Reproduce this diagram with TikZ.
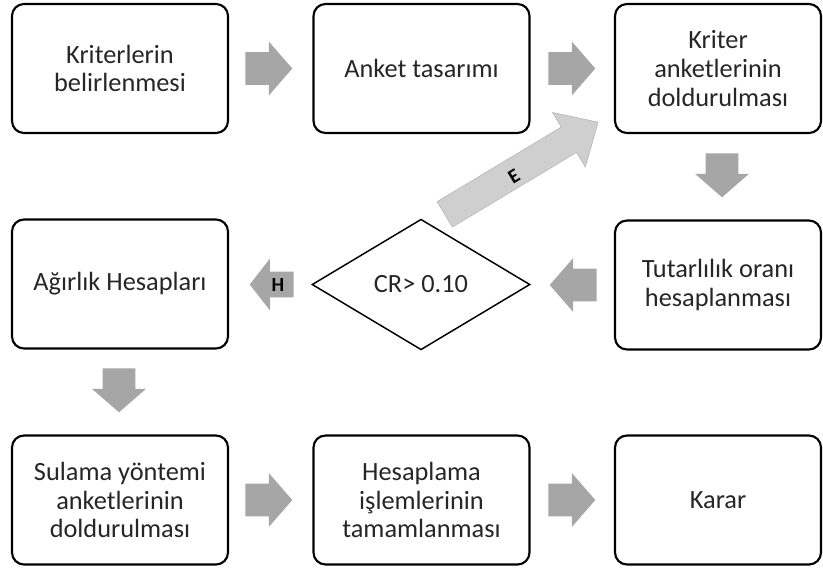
\documentclass[tikz,border=0pt]{standalone}
\usepackage{fontspec}
\setmainfont{Carlito}
\usetikzlibrary{shapes.geometric,shapes.arrows}

\begin{document}
\begin{tikzpicture}[x=0.75pt, y=-0.75pt, font=\fontsize{19.75}{21.5}\selectfont,
  box/.style={draw, line width=1.6pt, rounded corners=9pt, fill=white,
    minimum width=162pt, minimum height=96.75pt, align=center, text=black!85},
  blockarr/.style={single arrow, fill=gray!70, draw=none, anchor=tail,
    inner xsep=0pt, inner ysep=12pt, minimum width=1pt,
    single arrow head extend=8pt, single arrow tip angle=98},
  lbl/.style={font=\fontsize{15}{16}\selectfont\bfseries, text=black, inner sep=0pt}]
  \useasboundingbox (0,0) rectangle (823,572);
  % top row
  \node[box] (krit) at (120,68.5) {Kriterlerin\\belirlenmesi};
  \node[box] (anket) at (421.5,68.5) {Anket tasarımı};
  \node[box, minimum width=154.5pt] (dold) at (718,68.5) {Kriter\\anketlerinin\\doldurulması};
  \node[blockarr, minimum height=35.25pt] (a1) at (245,68.5) {};
  \node[blockarr, minimum height=35.25pt] (a2) at (548,68.5) {};
  \node[blockarr, minimum height=33pt, rotate=-90] (a3) at (722,153) {};
  % middle row, with the check
  \node[box] (agir) at (120,284) {Ağırlık Hesapları};
  \node[box, minimum width=154.5pt] (tut) at (718,285) {Tutarlılık oranı\\hesaplanması};
  \node[diamond, draw, line width=1.1pt, inner sep=0pt, aspect=1.66,
    minimum width=163.5pt, minimum height=98pt, text=black!85] (cr) at (421,284.5) {CR> 0.10};
  \node[blockarr, minimum height=35.25pt, rotate=180] (a4) at (597,285) {};
  \node[blockarr, minimum height=33pt, inner ysep=9.4pt, single arrow head extend=9.75pt,
    single arrow tip angle=104, rotate=180] (ah) at (294,284.5) {};
  \node[lbl] (hlbl) at (278,285) {H};
  \node[blockarr, fill=gray!38, draw=gray!60, line width=0.4pt, minimum height=134.25pt,
    inner ysep=10.9pt, single arrow head extend=12.75pt, single arrow tip angle=86,
    rotate=31] (ae) at (444.5,214.5) {};
  \node[lbl, rotate=31] (elbl) at (514,176) {E};
  \node[blockarr, minimum height=33pt, rotate=-90] (a5) at (119,368) {};
  % bottom row
  \node[box] (sul) at (120,500) {Sulama yöntemi\\anketlerinin\\doldurulması};
  \node[box] (hes) at (421.5,500) {Hesaplama\\işlemlerinin\\tamamlanması};
  \node[box, minimum width=154.5pt] (karar) at (718,500) {Karar};
  \node[blockarr, minimum height=35.25pt] (a6) at (245,500) {};
  \node[blockarr, minimum height=35.25pt] (a7) at (548,500) {};
\end{tikzpicture}
\end{document}
